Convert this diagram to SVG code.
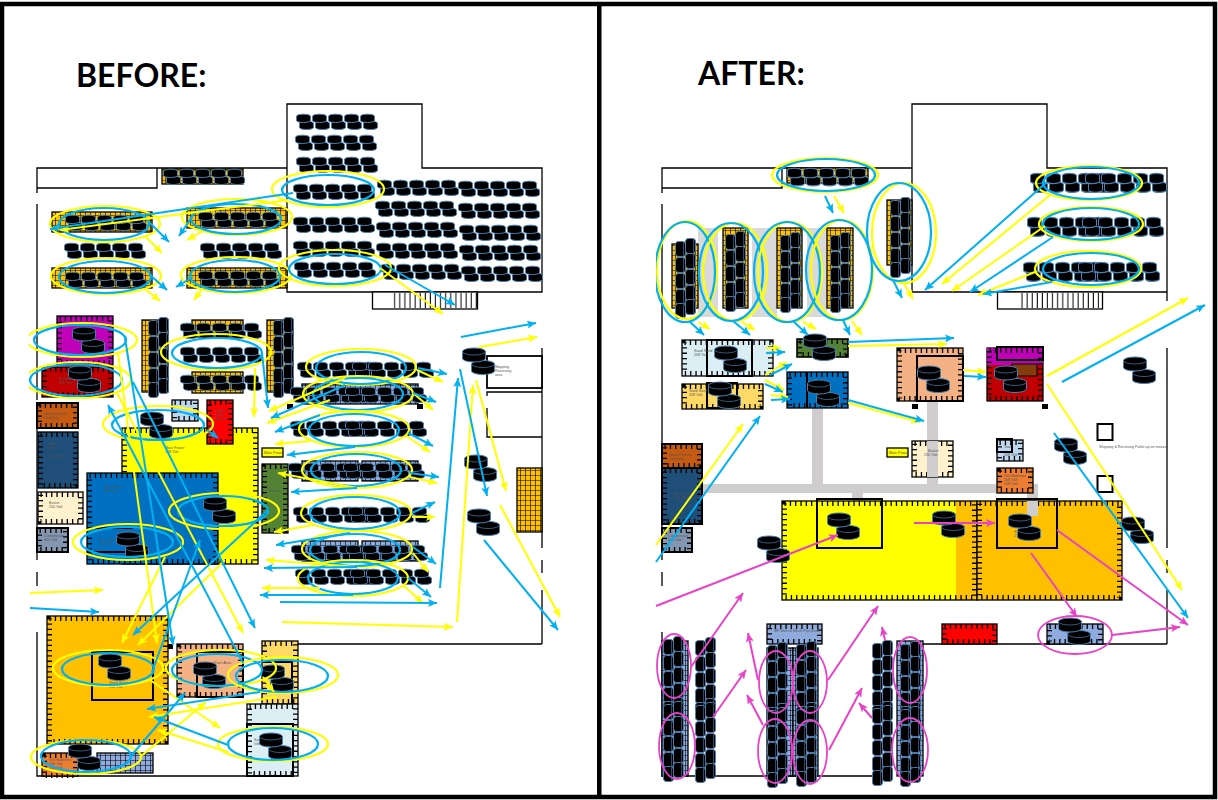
<svg xmlns="http://www.w3.org/2000/svg" width="1218" height="800" viewBox="0 0 1218 800">
<style>
text{font-family:"Liberation Sans",Arial,sans-serif;font-size:3.7px;fill:#555}
text.h{font-family:Lato,"Liberation Sans",sans-serif;font-size:32px;font-weight:700;fill:#000}
.r{stroke:#000;stroke-width:1.3}
.t{fill:none;stroke:#000;stroke-width:5;stroke-dasharray:1.3 4}
.k{fill:none;stroke:#000;stroke-width:2}
.w{fill:none;stroke:#000;stroke-width:1.3}
.ey{fill:none;stroke:#ffff00;stroke-width:2.2}
.eb{fill:none;stroke:#00b0f0;stroke-width:2.2}
.em{fill:none;stroke:#e843c8;stroke-width:1.8}
.by line{stroke:#ffff00;stroke-width:2;marker-end:url(#my)}
.bb line{stroke:#00b0f0;stroke-width:2;marker-end:url(#mb)}
.bm line{stroke:#e843c8;stroke-width:2;marker-end:url(#mm)}
.pipe{fill:#cfcdce}
</style>
<defs>
<marker id="my" markerUnits="userSpaceOnUse" markerWidth="10" markerHeight="8" refX="9" refY="4" orient="auto"><path d="M0 0L9 4L0 8L2 4Z" fill="#ffff00"/></marker>
<marker id="mb" markerUnits="userSpaceOnUse" markerWidth="10" markerHeight="8" refX="9" refY="4" orient="auto"><path d="M0 0L9 4L0 8L2 4Z" fill="#00b0f0"/></marker>
<marker id="mm" markerUnits="userSpaceOnUse" markerWidth="10" markerHeight="8" refX="9" refY="4" orient="auto"><path d="M0 0L9 4L0 8L2 4Z" fill="#e843c8"/></marker>
<pattern id="gy" width="5" height="5" patternUnits="userSpaceOnUse"><rect width="5" height="5" fill="#ffc000"/><path d="M0 0H5M0 0V5" stroke="#000" stroke-width="1.2"/></pattern>
<pattern id="gb" width="5" height="5" patternUnits="userSpaceOnUse"><rect width="5" height="5" fill="#8faadc"/><path d="M0 0H5M0 0V5" stroke="#000" stroke-width="1.2"/></pattern>
<pattern id="gr" width="5.1" height="20" patternUnits="userSpaceOnUse"><path d="M2 0V20" stroke="#000" stroke-width="1"/></pattern>
<linearGradient id="yo" x1="0" x2="1" y1="0" y2="0"><stop offset="0" stop-color="#ffff00"/><stop offset=".89" stop-color="#ffff00"/><stop offset=".89" stop-color="#ffc000"/></linearGradient>
<g id="p"><path d="M.5 3.5V10.500A11.500 3.500 0 0 0 23.500 10.500V3.500A11.500 3.500 0 0 0 .5 3.500Z" fill="#000" stroke="#4a7fb0"/><path d="M.5 3.500A11.500 3.500 0 0 0 23.500 3.500" fill="none" stroke="#4a7fb0" stroke-width=".7"/></g>
<g id="pair"><use href="#p" x="9" y="12.500"/><use href="#p"/></g>
<g id="s"><path d="M.5 2.200V6.500A7 2 0 0 0 14.500 6.500V2.200A7 2 0 0 0 .5 2.200Z" fill="#000" stroke="#4a7fb0"/></g>
<g id="row"><use href="#s" x="3" y="7"/><use href="#s" x="19" y="7"/><use href="#s" x="35" y="7"/><use href="#s" x="51" y="7"/><use href="#s" x="67" y="7"/><use href="#s"/><use href="#s" x="16"/><use href="#s" x="32"/><use href="#s" x="48"/><use href="#s" x="64"/></g>
<g id="wrow"><use href="#row"/><use href="#row" x="55"/></g>
<g id="v"><rect x=".5" y=".5" width="10" height="15" rx="3" fill="#000" stroke="#4a7fb0"/><path d="M8.500 1.500V14.500" stroke="#4a7fb0" stroke-width=".6"/></g>
<g id="c5"><use href="#v" y="3"/><use href="#v" y="19"/><use href="#v" y="35"/><use href="#v" y="51"/><use href="#v" y="65"/><use href="#v" x="10"/><use href="#v" x="10" y="15"/><use href="#v" x="10" y="31"/><use href="#v" x="10" y="47"/><use href="#v" x="10" y="61"/></g>
<g id="c9"><use href="#c5"/><use href="#c5" y="65"/></g>
<clipPath id="cl"><rect x="29" y="100" width="560" height="690"/></clipPath>
<clipPath id="cr"><rect x="656" y="100" width="555" height="685"/></clipPath>
</defs>
<rect width="1218" height="800" fill="#fff"/>
<g id="frame"><rect x="2" y="4" width="1213" height="793" fill="none" stroke="#000" stroke-width="4.5"/><rect x="597" y="4" width="4.5" height="793" fill="#000"/></g>
<text class="h" x="76" y="87">BEFORE:</text>
<text class="h" x="698" y="85">AFTER:</text>

<g id="walls-before">
<path class="w" d="M287 168V104H422V168H542V292H287V168H37V193M37 204V400M37 403V560M37 572V586M37 632V776H247M37 168H157V188H37M298 644H542M542 348V548M542 560V573M542 590V644"/>
<rect x="372.500" y="292" width="105" height="17" fill="#fff" stroke="#000" stroke-width="1.3"/><rect x="393" y="293" width="85" height="15" fill="url(#gr)"/>
<rect x="487" y="356" width="55" height="32" fill="#fff" stroke="#000" stroke-width="1.8"/>
<path class="w" d="M487 396V392H542M487 408V437H542"/>
<rect x="287" y="404" width="6" height="5"/><rect x="417" y="404" width="6" height="5"/><rect x="168" y="644" width="5" height="5"/>
</g>
<g id="walls-after">
<path class="w" d="M912 168V104H1047V168H1167V301M1167 292H912V168H662V193M662 204V560M662 572V586M662 632V776H872M662 168H782V188H662M923 644H1167M1167 348V548M1167 560V573M1167 590V644"/>
<rect x="997.500" y="292" width="105" height="17" fill="#fff" stroke="#000" stroke-width="1.3"/><rect x="1018" y="293" width="85" height="15" fill="url(#gr)"/>
<rect x="912" y="404" width="6" height="5"/><rect x="1042" y="404" width="6" height="5"/>
<rect x="1097.500" y="424" width="15" height="16" fill="#fff" stroke="#000" stroke-width="2"/><rect x="1097.500" y="476" width="15" height="16" fill="#fff" stroke="#000" stroke-width="2"/>
<g fill="#d9d9d9"><rect x="698" y="228" width="20" height="89"/><rect x="752" y="228" width="25" height="89"/><rect x="807" y="228" width="20" height="89"/></g>
</g>

<g id="grids-before">
<g class="r" fill="url(#gy)"><rect x="162" y="169" width="81" height="15"/><rect x="52" y="212" width="100" height="20"/><rect x="187" y="208" width="100" height="20"/><rect x="52" y="268" width="100" height="20"/><rect x="187" y="268" width="100" height="20"/><rect x="142" y="320" width="26" height="72"/><rect x="267" y="320" width="26" height="72"/><rect x="192" y="320" width="51" height="17"/><rect x="192" y="372" width="51" height="21"/><rect x="517" y="468" width="25" height="64"/></g>
<g class="r" fill="url(#gb)"><rect x="302" y="384" width="116" height="20"/><rect x="302" y="461" width="56" height="20"/><rect x="362" y="461" width="56" height="20"/><rect x="302" y="541" width="56" height="20"/><rect x="362" y="541" width="56" height="20"/><rect x="97" y="753" width="56" height="20"/></g>
</g>

<g id="room-magenta"><rect class="r" x="57" y="316" width="56" height="49" fill="#c000b8"/><rect class="t" x="59.500" y="318.500" width="51" height="44"/></g>
<g id="room-red"><rect class="r" x="42" y="367" width="71" height="30" fill="#c00000"/><rect class="t" x="44.500" y="369.500" width="66" height="25"/><text x="59" y="380">Welder</text><text x="59" y="384">208 Volt</text></g>
<g id="room-grain"><rect x="37" y="403" width="41" height="25" fill="#c55a11" stroke="#000" stroke-width="2"/><rect class="t" x="39.500" y="405.500" width="36" height="20"/><text x="44" y="415">Grain Pattern</text><text x="44" y="419">Leveling</text></g>
<g id="room-navy"><rect x="38" y="432" width="40" height="56" fill="#1f4e79" class="r"/><rect class="t" x="40.500" y="434.500" width="35" height="51"/><text x="49" y="445">Blue</text><text x="49" y="449">Volt</text><text x="49" y="457">600 Volt</text></g>
<g id="room-buster"><rect class="r" x="38" y="492" width="45" height="32" fill="#fff2cc"/><rect class="t" x="40.500" y="494.500" width="40" height="27"/><text x="49" y="504">Buster</text><text x="49" y="508">250 Volt</text></g>
<g id="room-comp"><rect x="37" y="528" width="31" height="24" fill="#8497b0" stroke="#000" stroke-width="2"/><rect class="t" x="39.500" y="530.500" width="26" height="19"/><text x="44" y="537">Compressor</text><text x="44" y="541">600 Volt</text></g>
<g id="room-ltblue"><rect class="r" x="172" y="400" width="26" height="21" fill="#bdd7ee"/><rect class="t" x="174.500" y="402.500" width="21" height="16"/></g>
<g id="room-main"><rect class="r" x="122" y="428" width="136" height="136" fill="#ffff00"/><rect class="t" x="124.500" y="430.500" width="131" height="131"/><text x="165" y="449">Main Power</text><text x="165" y="453">208 Volt</text></g>
<g id="room-brightred"><rect class="r" x="207" y="400" width="26" height="44" fill="#ff0000"/><rect class="t" x="209.500" y="402.500" width="21" height="39"/><text x="215" y="412">Saddle</text><text x="215" y="416">Hook</text><text x="215" y="420">Station</text></g>
<g id="room-blue"><rect class="r" x="87" y="473" width="131" height="91" fill="#0070c0"/><rect class="t" x="89.500" y="475.500" width="126" height="86"/><text x="104" y="488">Main Power</text><text x="104" y="492">600 Volt</text><text x="99" y="541">Main Pow</text><text x="99" y="545">600 Volt</text><path class="k" d="M87 528H133M87 552H125"/></g>
<g id="label-main"><rect class="r" x="262" y="448" width="21" height="9" fill="#ffff00"/><text x="264" y="454">Main Power</text></g>
<g id="room-green"><rect class="r" x="262" y="464" width="26" height="69" fill="#548235"/><rect class="t" x="264.500" y="466.500" width="21" height="64"/><text x="269" y="492">Power</text></g>
<g id="room-orange"><rect class="r" x="47" y="616" width="121" height="128" fill="#ffc000"/><rect class="t" x="49.500" y="618.500" width="116" height="123"/><rect class="k" x="92" y="652" width="61" height="48"/><text x="109" y="684">Sand Sand</text><text x="109" y="688">150 Volt</text></g>
<g id="room-peach"><rect class="r" x="177" y="644" width="66" height="53" fill="#f4b183"/><rect class="t" x="179.500" y="646.500" width="61" height="48"/><rect class="k" x="197" y="652" width="46" height="45"/><text x="214" y="664">Paint Area</text></g>
<g id="room-ltyellow"><rect class="r" x="262" y="641" width="36" height="63" fill="#ffd966"/><rect class="t" x="264.500" y="643.500" width="31" height="58"/><path class="k" d="M263 662H292V704"/></g>
<g id="room-ltblue2"><rect class="r" x="247" y="704" width="51" height="72" fill="#daeef3"/><rect class="t" x="249.500" y="706.500" width="46" height="67"/><rect class="k" x="247" y="724" width="46" height="52"/><text x="254" y="741">Sand</text><text x="254" y="745">Volt</text></g>
<g id="room-orange2"><rect class="r" x="42" y="753" width="36" height="23" fill="#ed7d31"/><rect class="t" x="44.500" y="755.500" width="31" height="20"/><text x="49" y="761">Volt Batteries</text><text x="49" y="765">208 Volt</text><text x="49" y="769">208 Volt</text></g>
<g id="note-before"><text x="495" y="368">Mapping</text><text x="495" y="372">Receiving</text><text x="495" y="376">area</text></g>

<g id="tires-before">
<use href="#row" x="163" y="169"/><use href="#row" x="296" y="114"/><use href="#row" x="295" y="135"/><use href="#row" x="296" y="157"/><use href="#row" x="293" y="184"/><use href="#row" x="293" y="217"/><use href="#row" x="293" y="241"/><use href="#row" x="294" y="262"/>
<use href="#row" x="377" y="180"/><use href="#row" x="458" y="181"/><use href="#row" x="375" y="201"/><use href="#row" x="458" y="203"/><use href="#row" x="376" y="222"/><use href="#row" x="459" y="225"/><use href="#row" x="376" y="243"/><use href="#row" x="459" y="245"/><use href="#row" x="380" y="264"/><use href="#row" x="461" y="266"/>
<use href="#row" x="65" y="215"/><use href="#row" x="198" y="212"/><use href="#row" x="64" y="243"/><use href="#row" x="200" y="243"/><use href="#row" x="65" y="272"/><use href="#row" x="198" y="271"/>
<use href="#row" x="180" y="323"/><use href="#row" x="180" y="347"/><use href="#row" x="180" y="375"/>
<use href="#c5" x="148" y="317"/><use href="#c5" x="273" y="317"/>
<use href="#wrow" x="297" y="362"/><use href="#wrow" x="290" y="387"/><use href="#wrow" x="290" y="421"/><use href="#wrow" x="288" y="463"/><use href="#wrow" x="293" y="507"/><use href="#wrow" x="291" y="545"/><use href="#wrow" x="295" y="569"/>
<use href="#pair" x="72" y="327"/><use href="#pair" x="68" y="366"/><use href="#pair" x="140" y="412"/><use href="#pair" x="203" y="497"/><use href="#pair" x="116" y="532"/><use href="#pair" x="98" y="654"/><use href="#pair" x="193" y="662"/><use href="#pair" x="261" y="665"/><use href="#pair" x="259" y="733"/><use href="#pair" x="68" y="744"/><use href="#pair" x="462" y="348"/><use href="#pair" x="464" y="455"/><use href="#pair" x="467" y="509"/>
</g>

<g id="ovals-before" clip-path="url(#cl)">
<ellipse class="ey" cx="105" cy="224" rx="55" ry="18"/><ellipse class="eb" cx="104" cy="224" rx="45" ry="16"/>
<ellipse class="ey" cx="237" cy="217" rx="55" ry="18"/><ellipse class="eb" cx="236" cy="219" rx="45" ry="15"/>
<ellipse class="ey" cx="106" cy="276" rx="55" ry="18"/><ellipse class="eb" cx="105" cy="277" rx="46" ry="16"/>
<ellipse class="ey" cx="236" cy="275" rx="55" ry="18"/><ellipse class="eb" cx="235" cy="276" rx="45" ry="16"/>
<ellipse class="ey" cx="328" cy="189" rx="56" ry="18"/><ellipse class="eb" cx="328" cy="190" rx="46" ry="15"/>
<ellipse class="ey" cx="335" cy="268" rx="56" ry="18"/><ellipse class="eb" cx="335" cy="269" rx="46" ry="15"/>
<ellipse class="ey" cx="82" cy="340" rx="55" ry="17"/><ellipse class="eb" cx="80" cy="340" rx="46" ry="15"/>
<ellipse class="ey" cx="78" cy="380" rx="53" ry="18"/><ellipse class="eb" cx="76" cy="380" rx="46" ry="16"/>
<ellipse class="ey" cx="216" cy="352" rx="55" ry="18"/><ellipse class="eb" cx="217" cy="353" rx="45" ry="15"/>
<ellipse class="ey" cx="158" cy="424" rx="55" ry="18"/><ellipse class="eb" cx="158" cy="425" rx="46" ry="15"/>
<ellipse class="ey" cx="224" cy="511" rx="55" ry="18"/><ellipse class="eb" cx="223" cy="511" rx="45" ry="15"/>
<ellipse class="ey" cx="128" cy="542" rx="55" ry="18"/><ellipse class="eb" cx="127" cy="542" rx="46" ry="15"/>
<ellipse class="ey" cx="108" cy="668" rx="55" ry="18"/><ellipse class="eb" cx="108" cy="669" rx="46" ry="16"/>
<ellipse class="ey" cx="221" cy="668" rx="55" ry="18"/><ellipse class="eb" cx="217" cy="670" rx="45" ry="16"/>
<ellipse class="ey" cx="283" cy="675" rx="55" ry="18"/><ellipse class="eb" cx="282" cy="676" rx="46" ry="16"/>
<ellipse class="ey" cx="273" cy="744" rx="55" ry="17"/><ellipse class="eb" cx="273" cy="744" rx="45" ry="16"/>
<ellipse class="ey" cx="86" cy="757" rx="55" ry="17"/><ellipse class="eb" cx="86" cy="756" rx="45" ry="16"/>
<ellipse class="ey" cx="361" cy="367" rx="55" ry="18"/><ellipse class="eb" cx="361" cy="368" rx="45" ry="16"/>
<ellipse class="ey" cx="358" cy="394" rx="55" ry="18"/><ellipse class="eb" cx="358" cy="394" rx="45" ry="16"/>
<ellipse class="ey" cx="354" cy="429" rx="55" ry="18"/><ellipse class="eb" cx="354" cy="430" rx="45" ry="16"/>
<ellipse class="ey" cx="357" cy="470" rx="55" ry="18"/><ellipse class="eb" cx="356" cy="470" rx="45" ry="16"/>
<ellipse class="ey" cx="356" cy="513" rx="55" ry="18"/><ellipse class="eb" cx="355" cy="513" rx="45" ry="16"/>
<ellipse class="ey" cx="357" cy="549" rx="55" ry="18"/><ellipse class="eb" cx="355" cy="550" rx="45" ry="16"/>
<ellipse class="ey" cx="353" cy="578" rx="55" ry="18"/><ellipse class="eb" cx="353" cy="578" rx="45" ry="16"/>
</g>

<g id="connectors-before">
<g class="by">
<line x1="288" y1="200" x2="60" y2="230"/><line x1="145" y1="236" x2="162" y2="253"/><line x1="203" y1="231" x2="187" y2="240"/><line x1="145" y1="289" x2="160" y2="301"/><line x1="203" y1="288" x2="194" y2="300"/><line x1="380" y1="268" x2="443" y2="314"/>
<line x1="417" y1="370" x2="443" y2="382"/><line x1="413" y1="393" x2="433" y2="410"/><line x1="405" y1="435" x2="430" y2="452"/><line x1="410" y1="477" x2="437" y2="483"/><line x1="412" y1="517" x2="435" y2="517"/><line x1="413" y1="553" x2="428" y2="572"/><line x1="403" y1="585" x2="423" y2="603"/>
<line x1="345" y1="378" x2="269" y2="411"/><line x1="330" y1="400" x2="267" y2="423"/><line x1="310" y1="441" x2="275" y2="444"/><line x1="357" y1="488" x2="278" y2="473"/><line x1="313" y1="525" x2="274" y2="532"/><line x1="357" y1="567" x2="266" y2="560"/><line x1="320" y1="588" x2="262" y2="588"/>
<line x1="282" y1="622" x2="453" y2="627"/><line x1="457" y1="622" x2="473" y2="385"/><line x1="476" y1="380" x2="506" y2="491"/><line x1="500" y1="505" x2="560" y2="617"/><line x1="479" y1="347" x2="537" y2="337"/><line x1="30" y1="593" x2="103" y2="590"/>
<line x1="118" y1="353" x2="157" y2="643"/><line x1="117" y1="393" x2="243" y2="633"/><line x1="255" y1="368" x2="254" y2="417"/><line x1="165" y1="557" x2="122" y2="643"/><line x1="225" y1="560" x2="138" y2="645"/>
<line x1="140" y1="757" x2="206" y2="702"/><line x1="277" y1="697" x2="149" y2="717"/><line x1="228" y1="752" x2="158" y2="730"/><line x1="150" y1="680" x2="220" y2="728"/><line x1="263" y1="677" x2="274" y2="692"/>
</g>
<g class="bb">
<line x1="293" y1="193" x2="50" y2="229"/><line x1="150" y1="223" x2="169" y2="242"/><line x1="192" y1="217" x2="179" y2="236"/><line x1="150" y1="275" x2="167" y2="290"/><line x1="193" y1="277" x2="176" y2="287"/><line x1="385" y1="265" x2="455" y2="305"/>
<line x1="418" y1="368" x2="447" y2="374"/><line x1="413" y1="393" x2="436" y2="402"/><line x1="408" y1="433" x2="433" y2="446"/><line x1="410" y1="473" x2="439" y2="477"/><line x1="412" y1="513" x2="435" y2="502"/><line x1="413" y1="547" x2="436" y2="564"/><line x1="408" y1="578" x2="431" y2="597"/>
<line x1="345" y1="385" x2="271" y2="418"/><line x1="320" y1="415" x2="275" y2="432"/><line x1="355" y1="447" x2="287" y2="455"/><line x1="357" y1="488" x2="291" y2="492"/><line x1="350" y1="533" x2="276" y2="545"/><line x1="357" y1="567" x2="264" y2="568"/><line x1="353" y1="595" x2="260" y2="595"/>
<line x1="280" y1="602" x2="437" y2="603"/><line x1="440" y1="588" x2="458" y2="378"/><line x1="460" y1="369" x2="487" y2="496"/><line x1="484" y1="540" x2="558" y2="630"/><line x1="461" y1="337" x2="536" y2="323"/><line x1="30" y1="608" x2="99" y2="612"/>
<line x1="125" y1="338" x2="173" y2="645"/><line x1="133" y1="382" x2="255" y2="628"/><line x1="243" y1="663" x2="108" y2="405"/><line x1="262" y1="353" x2="268" y2="408"/><line x1="207" y1="430" x2="218" y2="438"/><line x1="268" y1="510" x2="133" y2="635"/><line x1="152" y1="672" x2="200" y2="540"/>
<line x1="130" y1="757" x2="185" y2="693"/><line x1="260" y1="692" x2="147" y2="709"/><line x1="228" y1="745" x2="154" y2="717"/>
</g>
</g>

<g id="pipes-after"><rect class="pipe" x="812" y="395" width="11" height="90"/><rect class="pipe" x="927" y="390" width="11" height="95"/><rect class="pipe" x="703" y="484" width="335" height="9"/><rect class="pipe" x="852" y="493" width="11" height="19"/><rect class="pipe" x="1027" y="493" width="11" height="23"/></g>

<g id="grids-after">
<g class="r" fill="url(#gy)"><rect x="787" y="168" width="81" height="15"/><rect x="672" y="244" width="26" height="64"/><rect x="723" y="228" width="25" height="80"/><rect x="777" y="228" width="25" height="80"/><rect x="827" y="228" width="26" height="80"/><rect x="887" y="200" width="25" height="65"/></g>
<g class="r" fill="url(#gb)"><rect x="662" y="641" width="26" height="135"/><rect x="767" y="648" width="26" height="128"/><rect x="793" y="648" width="25" height="128"/><rect x="897" y="641" width="26" height="135"/></g>
</g>
<g id="a-ltblue"><rect class="r" x="682" y="340" width="91" height="36" fill="#daeef3"/><rect class="t" x="684.500" y="342.500" width="86" height="31"/><rect class="k" x="707" y="340" width="45" height="36"/><text x="694" y="352">Sand Sand</text><text x="694" y="356">208 Volt</text></g>
<g id="a-ltyellow"><rect class="r" x="682" y="384" width="81" height="25" fill="#ffd966"/><rect class="t" x="684.500" y="386.500" width="76" height="20"/><rect class="k" x="707" y="383" width="30" height="25"/><text x="689" y="392">Sand Sand</text><text x="689" y="396">208 Volt</text></g>
<g id="a-green"><rect x="797" y="339" width="51" height="18" fill="#548235" stroke="#000" stroke-width="1.6"/><rect class="t" x="799.500" y="341.500" width="46" height="13"/></g>
<g id="a-blue"><rect class="r" x="787" y="372" width="61" height="36" fill="#0070c0"/><rect class="t" x="789.500" y="374.500" width="56" height="31"/><path class="k" d="M807 372V408"/></g>
<g id="a-peach"><rect class="r" x="897" y="348" width="66" height="53" fill="#f4b183"/><rect class="t" x="899.500" y="350.500" width="61" height="48"/><rect class="k" x="917" y="356" width="46" height="45"/></g>
<g id="a-weld"><rect class="r" x="987" y="348" width="56" height="53" fill="#c00000"/><rect x="987" y="348" width="56" height="17" fill="#c000b8"/><rect x="1012" y="364" width="25" height="12" fill="#843c0c" stroke="#000"/><rect class="t" x="989.500" y="350.500" width="51" height="48"/><rect class="k" x="997" y="347" width="46" height="13"/></g>
<g id="a-grain"><rect x="662" y="444" width="40" height="24" fill="#c55a11" stroke="#000" stroke-width="2"/><rect class="t" x="664.500" y="446.500" width="35" height="19"/><text x="669" y="456">Grain Pattern</text><text x="669" y="460">Leveling</text></g>
<g id="a-navy"><rect x="662" y="468" width="40" height="56" fill="#1f4e79" stroke="#000" stroke-width="2"/><rect class="t" x="664.500" y="470.500" width="35" height="51"/><text x="674" y="495">Blue Volt</text><text x="674" y="499">600 Volt</text></g>
<g id="a-comp"><rect x="662" y="528" width="30" height="24" fill="#8497b0" stroke="#000" stroke-width="2"/><rect class="t" x="664.500" y="530.500" width="25" height="19"/><text x="668" y="537">Compressor</text><text x="668" y="541">600 Volt</text></g>
<g id="a-buster"><rect class="r" x="912" y="441" width="41" height="36" fill="#fff2cc"/><rect class="t" x="914.500" y="443.500" width="36" height="31"/><rect class="pipe" x="927" y="441" width="11" height="36"/><text x="928" y="452">Buster</text><text x="924" y="456">250 Volt</text></g>
<g id="a-label"><rect class="r" x="887" y="448" width="21" height="9" fill="#ffff00"/><text x="889" y="454">Main Power</text></g>
<g id="a-ltblue2"><rect class="r" x="997" y="440" width="26" height="21" fill="#bdd7ee"/><rect class="t" x="999.500" y="442.500" width="21" height="16"/><rect class="k" x="997" y="439" width="15" height="13"/><text x="1004" y="448">Tool</text><text x="1004" y="456">208 Volt</text></g>
<g id="a-orange2"><rect class="r" x="997" y="468" width="36" height="25" fill="#ed7d31"/><rect class="t" x="999.500" y="470.500" width="31" height="20"/><text x="1004" y="477">Volt Batteries</text><text x="1004" y="481">208 Volt</text><text x="1004" y="485">208 Volt</text></g>
<g id="a-main"><rect class="r" x="782" y="501" width="195" height="99" fill="url(#yo)"/><rect class="t" x="784.500" y="503.500" width="190" height="94"/><rect class="k" x="817" y="499" width="65" height="49"/></g>
<g id="a-orange"><rect class="r" x="977" y="501" width="145" height="99" fill="#ffc000"/><rect class="t" x="979.500" y="503.500" width="140" height="94"/><rect class="pipe" x="1027" y="501" width="11" height="15"/><rect class="k" x="997" y="499" width="60" height="49"/><text x="1014" y="533">Sand Sand</text><text x="1014" y="537">150 Volt</text></g>
<g id="a-mezz"><rect class="r" x="767" y="624" width="55" height="20" fill="#8faadc"/><rect class="t" x="769.500" y="626.500" width="50" height="15"/><text x="774" y="632">MP Main &amp; Mech Pop Mezz</text></g>
<g id="a-red"><rect class="r" x="942" y="624" width="55" height="20" fill="#ff0000"/><rect class="t" x="944.500" y="626.500" width="50" height="15"/></g>
<g id="a-grid"><rect class="r" x="1047" y="624" width="56" height="20" fill="#8faadc"/><rect class="t" x="1049.500" y="626.500" width="51" height="15"/></g>
<text x="1099" y="448">Shipping &amp; Receiving Pallet up on mezzo</text>

<g id="tires-after">
<use href="#row" transform="translate(787 168) scale(1 1.15)"/>
<use href="#wrow" transform="translate(1030 173) scale(1 1.25)"/><use href="#wrow" transform="translate(1027 217) scale(1 1.25)"/><use href="#wrow" transform="translate(1023 262) scale(1 1.25)"/>
<use href="#c5" x="675" y="238"/><use href="#c5" x="725" y="231"/><use href="#c5" x="780" y="232"/><use href="#c5" x="830" y="232"/><use href="#c5" x="890" y="197"/>
<use href="#c9" x="663" y="636"/><use href="#c9" x="695" y="637"/><use href="#c9" x="767" y="642"/><use href="#c9" x="796" y="641"/><use href="#c9" x="872" y="640"/><use href="#c9" x="900" y="641"/>
<use href="#pair" x="714" y="346"/><use href="#pair" x="708" y="382"/><use href="#pair" x="803" y="334"/><use href="#pair" x="807" y="380"/><use href="#pair" x="917" y="366"/><use href="#pair" x="994" y="366"/><use href="#pair" x="827" y="513"/><use href="#pair" x="932" y="511"/><use href="#pair" x="1008" y="514"/><use href="#pair" x="757" y="536"/><use href="#pair" x="1123" y="357"/><use href="#pair" x="1054" y="438"/><use href="#pair" x="1121" y="517"/><use href="#pair" x="1058" y="618"/>
</g>

<g id="ovals-after" clip-path="url(#cr)">
<ellipse class="ey" cx="825" cy="175" rx="53" ry="17"/><ellipse class="eb" cx="826" cy="175" rx="49" ry="16"/>
<ellipse class="ey" cx="1089" cy="183" rx="53" ry="17"/><ellipse class="eb" cx="1091" cy="183" rx="48" ry="16"/>
<ellipse class="ey" cx="1091" cy="224" rx="52" ry="17"/><ellipse class="eb" cx="1091" cy="224" rx="48" ry="16"/>
<ellipse class="ey" cx="1088" cy="269" rx="53" ry="18"/><ellipse class="eb" cx="1091" cy="269" rx="48" ry="16"/>
<ellipse class="ey" cx="687" cy="270" rx="30" ry="49"/><ellipse class="eb" cx="685" cy="272" rx="30" ry="50"/>
<ellipse class="ey" cx="735" cy="272" rx="32" ry="49"/><ellipse class="eb" cx="731" cy="272" rx="32" ry="49"/>
<ellipse class="ey" cx="790" cy="272" rx="32" ry="50"/><ellipse class="eb" cx="787" cy="272" rx="33" ry="50"/>
<ellipse class="ey" cx="842" cy="270" rx="31" ry="50"/><ellipse class="eb" cx="839" cy="270" rx="33" ry="50"/>
<ellipse class="ey" cx="904" cy="233" rx="32" ry="50"/><ellipse class="eb" cx="899" cy="232" rx="32" ry="49"/>
<ellipse class="em" cx="674" cy="666" rx="17" ry="32"/><ellipse class="em" cx="677" cy="746" rx="18" ry="33"/><ellipse class="em" cx="776" cy="682" rx="17" ry="31"/><ellipse class="em" cx="810" cy="682" rx="17" ry="31"/><ellipse class="em" cx="775" cy="751" rx="17" ry="32"/><ellipse class="em" cx="810" cy="752" rx="17" ry="32"/><ellipse class="em" cx="910" cy="670" rx="17" ry="33"/><ellipse class="em" cx="910" cy="750" rx="18" ry="32"/><ellipse class="em" cx="1075" cy="635" rx="37" ry="19"/>
</g>

<g id="connectors-after">
<g class="by">
<line x1="834" y1="196" x2="844" y2="213"/><line x1="903" y1="282" x2="913" y2="299"/><line x1="1050" y1="195" x2="942" y2="284"/><line x1="1045" y1="226" x2="952" y2="291"/><line x1="1035" y1="272" x2="978" y2="295"/>
<line x1="698" y1="322" x2="710" y2="329"/><line x1="742" y1="322" x2="755" y2="330"/><line x1="803" y1="322" x2="816" y2="329"/><line x1="852" y1="321" x2="862" y2="335"/>
<line x1="766" y1="348" x2="781" y2="348"/><line x1="765" y1="375" x2="787" y2="362"/><line x1="765" y1="380" x2="784" y2="390"/><line x1="771" y1="395" x2="788" y2="397"/>
<line x1="848" y1="346" x2="947" y2="344"/><line x1="848" y1="403" x2="920" y2="422"/><line x1="963" y1="370" x2="986" y2="372"/>
<line x1="656" y1="545" x2="743" y2="424"/><line x1="1047" y1="376" x2="1188" y2="298"/><line x1="1047" y1="384" x2="1182" y2="590"/>
</g>
<g class="bb">
<line x1="825" y1="196" x2="833" y2="213"/><line x1="893" y1="280" x2="902" y2="298"/><line x1="1047" y1="182" x2="925" y2="290"/><line x1="1053" y1="237" x2="970" y2="292"/><line x1="1052" y1="282" x2="983" y2="294"/>
<line x1="690" y1="322" x2="704" y2="335"/><line x1="733" y1="321" x2="750" y2="335"/><line x1="794" y1="322" x2="808" y2="335"/><line x1="843" y1="320" x2="850" y2="335"/>
<line x1="766" y1="353" x2="785" y2="352"/><line x1="770" y1="375" x2="792" y2="364"/><line x1="765" y1="384" x2="783" y2="392"/><line x1="771" y1="400" x2="790" y2="399"/>
<line x1="848" y1="342" x2="954" y2="338"/><line x1="848" y1="400" x2="924" y2="421"/><line x1="964" y1="376" x2="986" y2="377"/>
<line x1="656" y1="562" x2="760" y2="416"/><line x1="1062" y1="382" x2="1205" y2="305"/><line x1="1054" y1="433" x2="1188" y2="618"/>
</g>
<g class="bm">
<line x1="656" y1="606" x2="838" y2="535"/><line x1="691" y1="667" x2="743" y2="593"/><line x1="713" y1="717" x2="746" y2="670"/><line x1="758" y1="680" x2="748" y2="633"/><line x1="763" y1="725" x2="747" y2="695"/><line x1="828" y1="680" x2="878" y2="606"/><line x1="829" y1="750" x2="862" y2="688"/><line x1="872" y1="718" x2="859" y2="703"/><line x1="885" y1="640" x2="882" y2="627"/>
<line x1="1031" y1="553" x2="1077" y2="617"/><line x1="1057" y1="530" x2="1188" y2="625"/><line x1="914" y1="523" x2="995" y2="523"/><line x1="1112" y1="635" x2="1180" y2="627"/>
</g>
</g>
</svg>
